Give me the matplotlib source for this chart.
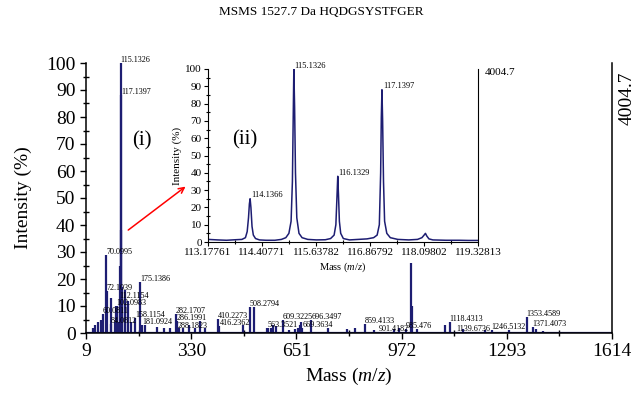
import numpy as np
import matplotlib
matplotlib.use('Agg')
import matplotlib.pyplot as plt
from matplotlib.ticker import MultipleLocator, FixedLocator

plt.rcParams['font.family'] = ['Liberation Serif', 'DejaVu Serif']
plt.rcParams['mathtext.fontset'] = 'custom'
plt.rcParams['mathtext.it'] = 'Liberation Serif:italic'
plt.rcParams['mathtext.rm'] = 'Liberation Serif'

navy = '#1d1d72'

# main MS/MS spectrum: stick peaks (m/z, relative intensity %)
peak_mz = [30.03, 36.02, 44.05, 55.05, 60.0811, 70.0995, 72.1039, 84.0812, 86.0964,
           98.06, 101.07, 102.0983, 110.07, 112.1154, 114.1366, 115.1326, 116.1329,
           117.1397, 120.08, 127.1, 129.1, 136.07, 145.1, 158.1154, 175.1386,
           181.0924, 190.1, 226.6, 247.1, 265.1, 282.1707, 286.1991, 288.1823,
           294.1, 306.2, 323.1, 341.6, 356.8, 372.2, 410.2273, 416.2362, 489.2,
           508.2794, 522.6, 560.3, 563.3521, 572.6, 580.3, 588.7, 609.3225, 629.3,
           646.7, 654.3, 662.3, 666.3, 669.3634, 696.3497, 748.4, 804.4, 830.4,
           859.4133, 886.4, 901.4182, 947.5, 965.5, 985.476, 1000.7, 1003.5,
           1018.5, 1105.5, 1118.4313, 1139.6736, 1160.6, 1226.6, 1246.5132,
           1300.6, 1353.4589, 1371.4073, 1382.7, 1403.7]
peak_int = [2, 3, 4, 5, 7, 29, 15.5, 3.3, 13,
            4, 10, 10, 4, 12.5, 25, 100, 38,
            88, 17, 16, 13, 12, 4, 5.5, 19,
            3, 3, 2.3, 2, 2, 7, 4.4, 1.5,
            2, 2, 3, 2, 4.4, 2, 5.2, 2.6, 3,
            9.6, 9.5, 2, 1.9, 2, 3, 2.5, 4.8, 1,
            1.5, 2, 3, 4, 1.9, 4.8, 2, 1.5, 2,
            3.5, 1, 0.4, 1.5, 2, 1.5, 26, 10,
            1.5, 3, 4, 0.4, 1.5, 1, 1.1,
            1, 6, 2.2, 1.5, 0.7]
labeled = ['60.0811', '70.0995', '72.1039', '84.0812', '102.0983', '112.1154',
           '115.1326', '117.1397', '158.1154', '175.1386', '181.0924', '282.1707',
           '286.1991', '288.1823', '410.2273', '416.2362', '508.2794', '563.3521',
           '609.3225', '669.3634', '696.3497', '859.4133', '901.4182', '985.476',
           '1118.4313', '1139.6736', '1246.5132', '1353.4589', '1371.4073']

# zoomed iTRAQ reporter region, profile trace
inset_mz = [113.18, 113.40, 113.60, 113.80, 113.95, 114.03, 114.07, 114.10, 114.12,
            114.1366, 114.155, 114.18, 114.21, 114.26, 114.35, 114.50, 114.70,
            114.85, 114.95, 115.02, 115.07, 115.10, 115.12, 115.1326, 115.15,
            115.17, 115.20, 115.25, 115.32, 115.45, 115.65, 115.85, 115.97,
            116.05, 116.09, 116.115, 116.1329, 116.15, 116.17, 116.20, 116.26,
            116.40, 116.60, 116.80, 116.95, 117.03, 117.08, 117.11, 117.125,
            117.1397, 117.155, 117.175, 117.20, 117.25, 117.33, 117.50, 117.75,
            117.95, 118.05, 118.10, 118.13, 118.16, 118.21, 118.30, 118.60,
            118.90, 119.10, 119.33]
inset_int = [1.5, 1.2, 1.0, 1.3, 1.5, 2.5, 6, 14, 22,
             25, 20, 9, 4, 2, 1.2, 1.0, 1.0,
             1.5, 2.5, 5, 12, 35, 75, 100, 78,
             40, 14, 5, 2.5, 1.5, 1.2, 1.3, 2,
             4, 10, 26, 38, 27, 12, 5, 2,
             1.2, 1.5, 1.8, 2.5, 4, 10, 40, 72,
             88, 70, 35, 12, 5, 2.5, 1.5, 1.2,
             1.5, 2.5, 4, 5, 3.5, 1.8, 1.2, 1.0,
             1.0, 0.9, 0.9]
inset_labels = ['114.1366', '115.1326', '116.1329', '117.1397']
inset_ticks = [113.17761, 114.40771, 115.63782, 116.86792, 118.09802, 119.32813]

fig = plt.figure(figsize=(6.42, 4.0), dpi=100)
ax = fig.add_axes([0.134, 0.1675, 0.8193, 0.675])

ax.vlines(peak_mz, 0, peak_int, color=navy, lw=1.6)
ax.plot([9, 1614], [0, 0], color=navy, lw=1.6)
for mz, it in zip(peak_mz, peak_int):
    txt = ('%.4f' % mz).rstrip('0')
    if txt in labeled:
        ax.text(mz, it + 1.1, txt, fontsize=5.9, ha='left', va='center')

ax.set_xlim(9, 1614)
ax.set_ylim(0, 100)
ax.set_xticks([9, 330, 651, 972, 1293, 1614])
ax.xaxis.set_minor_locator(FixedLocator([169.5, 490.5, 811.5, 1132.5, 1453.5]))
ax.set_yticks(np.arange(0, 101, 10))
ax.yaxis.set_minor_locator(MultipleLocator(5))
ax.tick_params(which='major', direction='out', length=4, width=1, labelsize=14)
ax.tick_params(which='minor', direction='inout', length=4, width=1)
ax.spines['top'].set_visible(False)
for s in ax.spines.values():
    s.set_linewidth(1.1)
ax.set_xlabel('Mass ($m/z$)', fontsize=14, labelpad=4)
ax.set_ylabel('Intensity (%)', fontsize=14, labelpad=10)
fig.text(0.5, 0.97, 'MSMS 1527.7 Da HQDGSYSTFGER', ha='center', va='center', fontsize=9.5)
ax.text(1.028, 0.87, '4004.7', transform=ax.transAxes, rotation=90,
        fontsize=14, ha='center', va='center')
ax.text(0.107, 0.71, '(i)', transform=ax.transAxes, fontsize=15, ha='center', va='center')

# inset
ins = fig.add_axes([0.324, 0.395, 0.4206, 0.4325])
ins.plot(inset_mz, inset_int, color=navy, lw=1.1)
for lab in inset_labels:
    i = inset_mz.index(float(lab))
    ins.text(inset_mz[i] + 0.02, inset_int[i] + 2, lab, fontsize=6, ha='left', va='center')
ins.set_xlim(113.17761, 119.32813)
ins.set_ylim(0, 100)
ins.set_xticks(inset_ticks)
ins.set_xticklabels(['%.5f' % t for t in inset_ticks])
ins.xaxis.set_minor_locator(FixedLocator([(a + b) / 2 for a, b in zip(inset_ticks[:-1], inset_ticks[1:])]))
ins.set_yticks(np.arange(0, 101, 10))
ins.yaxis.set_minor_locator(MultipleLocator(5))
ins.tick_params(which='major', direction='out', length=3, width=0.8, labelsize=8, pad=1.5)
ins.tick_params(which='minor', direction='inout', length=3, width=0.8)
ins.spines['top'].set_visible(False)
ins.patch.set_alpha(0)
ins.set_xlabel('Mass ($m/z$)', fontsize=7.5, labelpad=2)
ins.set_ylabel('Intensity (%)', fontsize=8, labelpad=2)
ins.text(1.025, 0.98, '4004.7', transform=ins.transAxes, fontsize=8, ha='left', va='center')
ins.text(0.137, 0.59, '(ii)', transform=ins.transAxes, fontsize=15, ha='center', va='center')

ax.annotate('', xy=(-0.075, 0.33), xycoords=ins.transAxes,
            xytext=(131, 37.5), textcoords='data',
            arrowprops=dict(arrowstyle='->', color='red', lw=1.1))

plt.savefig('out.png', dpi=100)
plt.close()
